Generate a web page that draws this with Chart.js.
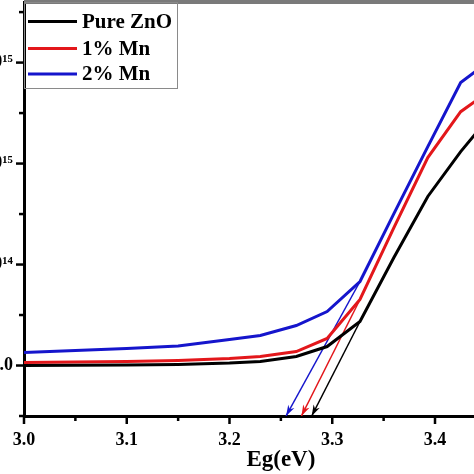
<!DOCTYPE html>
<html>
<head>
<meta charset="utf-8">
<script src="https://cdn.jsdelivr.net/npm/chart.js@4.4.1/dist/chart.umd.min.js"></script>
<style>
  html, body { margin: 0; padding: 0; background: #fff; overflow: hidden; width: 474px; height: 474px; }
  #wrap { position: absolute; left: -46px; top: 0; }
</style>
</head>
<body>
<div id="wrap"><canvas id="chart" width="601" height="474"></canvas></div>
<script>
// Eg (eV) and (alpha h nu)^2 in units of 1e15
const energy  = [3.0, 3.05, 3.1, 3.15, 3.2, 3.23, 3.265, 3.295, 3.327, 3.36, 3.393, 3.425, 3.455];
const pureZnO = [0, 0.001, 0.002, 0.005, 0.012, 0.020, 0.045, 0.094, 0.218, 0.535, 0.837, 1.059, 1.243];
const mn1     = [0.015, 0.017, 0.020, 0.025, 0.035, 0.045, 0.069, 0.134, 0.327, 0.683, 1.030, 1.257, 1.366];
const mn2     = [0.064, 0.074, 0.084, 0.097, 0.129, 0.149, 0.198, 0.267, 0.416, 0.752, 1.084, 1.401, 1.515];

const seriesNames  = ['Pure ZnO', '1% Mn', '2% Mn'];
const seriesColors = ['#000000', '#e3171b', '#1515cc'];

// tangent extrapolation: band gap where each arrow hits the axis
const bandGaps = [3.28, 3.27, 3.255];
const tangentFrom = 3.327;

const xMajorTicks = [3.0, 3.1, 3.2, 3.3, 3.4, 3.5];
const xMinorTicks = [3.05, 3.15, 3.25, 3.35, 3.45];
const yMajorTicks = [0, 0.5, 1.0, 1.5];
const yMinorTicks = [-0.25, 0.25, 0.75, 1.25, 1.75];
const yTickLabels = ['0.0', '5.0\u00d710\u00b9\u2074', '1.0\u00d710\u00b9\u2075', '1.5\u00d710\u00b9\u2075'];

const Y_MIN = -0.25, Y_MAX = 1.8;
const FONT = '"Liberation Serif", "Times New Roman", serif';

const series = [pureZnO, mn1, mn2];
const datasets = series.map((vals, i) => ({
  label: seriesNames[i],
  data: energy.map((e, k) => ({ x: e, y: vals[k] })),
  borderColor: seriesColors[i],
  borderWidth: 3,
  pointRadius: 0,
  tension: 0
}));
// tangent lines down to the axis
series.forEach((vals, i) => {
  const k = energy.indexOf(tangentFrom);
  datasets.push({
    label: 'tangent ' + seriesNames[i],
    data: [{ x: tangentFrom, y: vals[k] }, { x: bandGaps[i], y: Y_MIN }],
    borderColor: seriesColors[i],
    borderWidth: 1.5,
    pointRadius: 0,
    tension: 0,
    isTangent: true
  });
});

const decorPlugin = {
  id: 'decor',
  afterDraw(chart) {
    const ctx = chart.ctx, area = chart.chartArea;
    const xs = chart.scales.x, ys = chart.scales.y;
    ctx.save();

    // arrow heads at the end of tangent lines
    chart.data.datasets.forEach((ds, i) => {
      if (!ds.isTangent) return;
      const pts = chart.getDatasetMeta(i).data;
      const a = pts[0], b = pts[1];
      const ang = Math.atan2(b.y - a.y, b.x - a.x);
      const len = 11, half = 3.5;
      ctx.fillStyle = ds.borderColor;
      ctx.beginPath();
      ctx.moveTo(b.x, b.y);
      ctx.lineTo(b.x - len * Math.cos(ang) + half * Math.sin(ang), b.y - len * Math.sin(ang) - half * Math.cos(ang));
      ctx.lineTo(b.x - len * 0.7 * Math.cos(ang), b.y - len * 0.7 * Math.sin(ang));
      ctx.lineTo(b.x - len * Math.cos(ang) - half * Math.sin(ang), b.y - len * Math.sin(ang) + half * Math.cos(ang));
      ctx.closePath();
      ctx.fill();
    });

    // frame top and right
    ctx.strokeStyle = '#7a7a7a';
    ctx.lineWidth = 4;
    ctx.beginPath();
    ctx.moveTo(area.left, area.top);
    ctx.lineTo(area.right, area.top);
    ctx.stroke();
    ctx.strokeStyle = '#000';
    ctx.lineWidth = 3;
    ctx.beginPath();
    ctx.moveTo(area.right, area.top);
    ctx.lineTo(area.right, area.bottom);
    ctx.stroke();

    // tick marks, outward
    ctx.strokeStyle = '#000';
    ctx.lineWidth = 2.5;
    const tick = (x1, y1, x2, y2) => { ctx.beginPath(); ctx.moveTo(x1, y1); ctx.lineTo(x2, y2); ctx.stroke(); };
    xMajorTicks.forEach(v => { const p = xs.getPixelForValue(v); tick(p, area.bottom, p, area.bottom + 8); });
    xMinorTicks.forEach(v => { const p = xs.getPixelForValue(v); tick(p, area.bottom, p, area.bottom + 5); });
    yMajorTicks.forEach(v => { const p = ys.getPixelForValue(v); tick(area.left - 8, p, area.left, p); });
    yMinorTicks.forEach(v => { const p = ys.getPixelForValue(v); tick(area.left - 5, p, area.left, p); });

    // legend box
    const lx = area.left, ly = area.top;
    ctx.fillStyle = '#fff';
    ctx.fillRect(lx + 2, ly + 2, 151, 84);
    ctx.strokeStyle = '#8a8a8a';
    ctx.lineWidth = 1;
    ctx.strokeRect(lx + 0.5, ly + 0.5, 153, 86);
    ctx.font = 'bold 21px ' + FONT;
    ctx.textBaseline = 'middle';
    const rows = [19.5, 46.5, 72];
    seriesNames.forEach((name, i) => {
      ctx.strokeStyle = seriesColors[i];
      ctx.lineWidth = 3;
      ctx.beginPath();
      ctx.moveTo(lx + 4, ly + rows[i]);
      ctx.lineTo(lx + 53, ly + rows[i]);
      ctx.stroke();
      ctx.fillStyle = '#000';
      ctx.fillText(name, lx + 58, ly + rows[i] + 1);
    });
    ctx.restore();
  }
};

new Chart(document.getElementById('chart'), {
  type: 'line',
  data: { datasets: datasets },
  options: {
    responsive: false,
    animation: false,
    layout: { padding: { top: 2, right: 12, bottom: 0, left: 0 } },
    plugins: { legend: { display: false }, tooltip: { enabled: false } },
    scales: {
      x: {
        type: 'linear',
        min: 3.0,
        max: 3.5,
        afterBuildTicks: s => { s.ticks = xMajorTicks.map(v => ({ value: v })); },
        afterFit: s => { s.height = 58; },
        grid: { display: false },
        border: { display: true, color: '#000', width: 3 },
        ticks: {
          color: '#000',
          padding: 6,
          maxRotation: 0,
          font: { family: FONT, size: 18, weight: 'bold' },
          callback: v => Number(v).toFixed(1)
        },
        title: {
          display: true,
          text: 'Eg(eV)',
          color: '#000',
          padding: { top: 0, bottom: 0 },
          font: { family: FONT, size: 23, weight: 'bold' }
        }
      },
      y: {
        type: 'linear',
        min: Y_MIN,
        max: Y_MAX,
        afterBuildTicks: s => { s.ticks = yMajorTicks.map(v => ({ value: v })); },
        afterFit: s => { s.width = 70; s.paddingTop = 0; s.paddingBottom = 0; },
        grid: { display: false },
        border: { display: true, color: '#000', width: 3 },
        ticks: {
          color: '#000',
          padding: 3,
          font: { family: FONT, size: 18, weight: 'bold' },
          callback: v => yTickLabels[yMajorTicks.indexOf(v)]
        }
      }
    }
  },
  plugins: [decorPlugin]
});
</script>
</body>
</html>
